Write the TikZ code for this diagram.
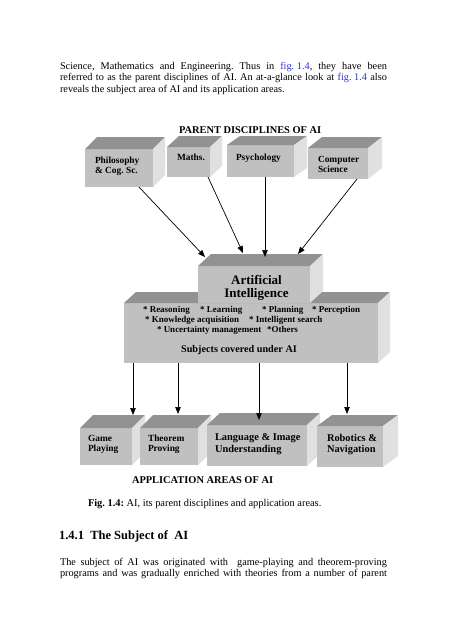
\documentclass[tikz,border=0pt]{standalone}
\usepackage{fontspec}
\setmainfont{Liberation Serif}
\usetikzlibrary{arrows.meta,calc}
\definecolor{frontc}{RGB}{192,192,192}
\definecolor{topc}{RGB}{146,146,146}
\definecolor{sidec}{RGB}{224,224,224}
\definecolor{linkc}{RGB}{51,51,204}
\newcommand{\cubefaces}[3]{%
  \fill[topc] (#1.north west) -- ++(#2,-#3) -- ([shift={(#2,-#3)}]#1.north east) -- (#1.north east) -- cycle;
  \fill[sidec] (#1.north east) -- ++(#2,-#3) -- ([shift={(#2,-#3)}]#1.south east) -- (#1.south east) -- cycle;
}
\begin{document}
\frenchspacing
\begin{tikzpicture}[x=1pt,y=-1pt,
  front/.style={fill=frontc, draw=none, inner sep=0pt, outer sep=0pt, anchor=north west},
  txt/.style={inner sep=0pt, outer sep=0pt, anchor=base west},
  bodyf/.style={txt, font=\fontsize{10.3}{12}\selectfont\frenchspacing},
  lab/.style={txt, font=\fontsize{9.4}{11}\selectfont\bfseries},
  bul/.style={txt, font=\fontsize{9}{11}\selectfont\bfseries},
  labbig/.style={txt, font=\fontsize{10.4}{12}\selectfont\bfseries},
  conn/.style={-{Triangle[length=7pt,width=5.5pt]}, line width=0.7pt}]
\useasboundingbox (0,0) rectangle (454,640);
\fill[white] (0,0) rectangle (454,640);

% top paragraph
\node[bodyf] (p1) at (60,69) {\makebox[327pt][s]{Science, Mathematics and Engineering. Thus in \textcolor{linkc}{\mbox{fig. 1.4}}, they have been}};
\node[bodyf] (p2) at (60,80.5) {\makebox[327pt][s]{referred to as the parent disciplines of AI. An at-a-glance look at \textcolor{linkc}{\mbox{fig. 1.4}} also}};
\node[bodyf] (p3) at (60,92) {reveals the subject area of AI and its application areas.};

\node[labbig] (ptitle) at (179,133) {PARENT DISCIPLINES OF AI};

% parent boxes
\node[front, minimum width=68pt, minimum height=38pt] (phil) at (85,149) {};
\cubefaces{phil}{12}{12}
\node[front, minimum width=43pt, minimum height=30pt] (maths) at (167,147) {};
\cubefaces{maths}{12}{11}
\node[front, minimum width=67pt, minimum height=32pt] (psych) at (227,145) {};
\cubefaces{psych}{13}{9}
\node[front, minimum width=60pt, minimum height=31pt] (cs) at (308,148) {};
\cubefaces{cs}{14}{11}

\node[lab] (phil1) at (95,163.5) {Philosophy};
\node[lab] (phil2) at (95,173.5) {\& Cog. Sc.};
\node[lab] (maths1) at (177,160) {Maths.};
\node[lab] (psych1) at (236,160) {Psychology};
\node[lab] (cs1) at (318,162.5) {Computer};
\node[lab] (cs2) at (318,172.7) {Science};

% big box and AI box
\node[front, minimum width=254pt, minimum height=60pt] (big) at (124,303) {};
\cubefaces{big}{12}{11}
\node[front, minimum width=112pt, minimum height=37pt] (ai) at (198,266) {};
\cubefaces{ai}{13}{12}

\node[txt, anchor=base, font=\fontsize{13}{15}\selectfont\bfseries] (ai1) at (256.5,284.5) {Artificial};
\node[txt, anchor=base, font=\fontsize{13}{15}\selectfont\bfseries] (ai2) at (256.5,297.5) {Intelligence};

\node[bul] (b1) at (143,312.5) {* Reasoning};
\node[bul] (b2) at (200,312.5) {* Learning};
\node[bul] (b3) at (262,312.5) {* Planning};
\node[bul] (b4) at (312,312.5) {* Perception};
\node[bul] (b5) at (145,322.7) {* Knowledge acquisition};
\node[bul] (b6) at (249,322.7) {* Intelligent search};
\node[bul] (b7) at (157,332.7) {* Uncertainty management};
\node[bul] (b8) at (267,332.7) {*Others};
\node[txt, anchor=base, font=\fontsize{10.2}{12}\selectfont\bfseries] (subj) at (239,352.3) {Subjects covered under AI};

% application boxes
\node[front, minimum width=52pt, minimum height=37pt] (game) at (80,428) {};
\cubefaces{game}{13}{13}
\node[front, minimum width=58pt, minimum height=37pt] (theo) at (140,428) {};
\cubefaces{theo}{13}{13}
\node[front, minimum width=100pt, minimum height=41pt] (lang) at (207,425) {};
\cubefaces{lang}{13}{12}
\node[front, minimum width=66pt, minimum height=41pt] (robo) at (317,426) {};
\cubefaces{robo}{15}{11}

\node[lab] (g1) at (88,441) {Game};
\node[lab] (g2) at (88,451.7) {Playing};
\node[lab] (t1) at (148,441) {Theorem};
\node[lab] (t2) at (148,451.7) {Proving};
\node[labbig] (l1) at (215,440) {Language \& Image};
\node[labbig] (l2) at (215,452.7) {Understanding};
\node[labbig] (r1) at (327,441.7) {Robotics \&};
\node[labbig] (r2) at (327,452.7) {Navigation};

% connectors
\coordinate (tphil) at ([xshift=7pt,yshift=9pt]ai.north west);
\coordinate (tmaths) at ([xshift=45pt,yshift=13pt]ai.north west);
\coordinate (tpsych) at ([xshift=67pt,yshift=9pt]ai.north west);
\coordinate (tcs) at ([xshift=100pt,yshift=12pt]ai.north west);
\draw[conn] ([xshift=54pt]phil.south west) -- (tphil);
\draw[conn] ([xshift=41pt]maths.south west) -- (tmaths);
\draw[conn] ([xshift=38pt]psych.south west) -- (tpsych);
\draw[conn] ([xshift=49pt]cs.south west) -- (tcs);

\draw[conn] ([xshift=9pt]big.south west) -- ([xshift=53pt,yshift=13pt]game.north west);
\draw[conn] ([xshift=54pt]big.south west) -- ([xshift=38pt,yshift=14pt]theo.north west);
\draw[conn] ([xshift=135pt]big.south west) -- ([xshift=52pt,yshift=5pt]lang.north west);
\draw[conn] ([xshift=223pt]big.south west) -- ([xshift=30pt,yshift=12pt]robo.north west);

\node[labbig] (atitle) at (132,483.3) {APPLICATION AREAS OF AI};
\node[txt, font=\fontsize{10.4}{12}\selectfont] (cap) at (88,506) {\textbf{Fig. 1.4:} AI, its parent disciplines and application areas.};

\node[txt, font=\fontsize{12.5}{14}\selectfont\bfseries] (head) at (59,539) {1.4.1\ \ The Subject of\ \ AI};
\node[bodyf] (q1) at (60,565) {\makebox[327pt][s]{The subject of AI was originated with\ \ game-playing and theorem-proving}};
\node[bodyf] (q2) at (60,576.5) {\makebox[327pt][s]{programs and was gradually enriched with theories from a number of parent}};
\end{tikzpicture}
\end{document}
